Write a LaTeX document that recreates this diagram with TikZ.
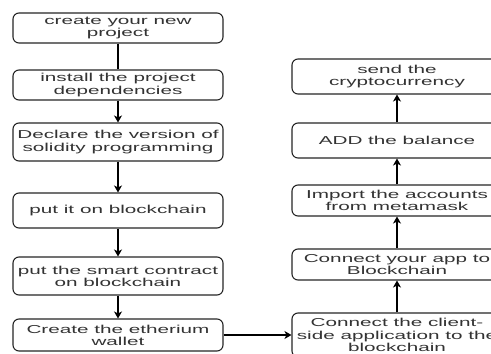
\documentclass[tikz,border=0pt]{standalone}
\usepackage{fontspec}
\newfontfamily\widesans[FakeStretch=1.8]{Liberation Sans}
\usetikzlibrary{arrows.meta}
\begin{document}
\begin{tikzpicture}[x=1pt,y=-1pt,
  flowbox/.style={draw=black!85, line width=1.1pt, rounded corners=6pt,
    minimum width=210pt, inner sep=0pt, align=center,
    font=\widesans\fontsize{11.5}{12.2}\selectfont, text=black!80},
  flowarrow/.style={draw=black, line width=1.1pt, -{Stealth[length=7pt,width=8pt,inset=2pt]}},
  flowline/.style={draw=black, line width=1.1pt}]
\useasboundingbox (0,0) rectangle (491,354);
\fill[white] (0,0) rectangle (491,354);
\clip (0,0) rectangle (491,354);
% left column
\node[flowbox, minimum height=30pt] (b1) at (118,28) {create your new\\project};
\node[flowbox, minimum height=30pt] (b2) at (118,85) {install the project\\dependencies};
\node[flowbox, minimum height=38pt] (b3) at (118,142) {Declare the version of\\solidity programming};
\node[flowbox, minimum height=35pt] (b4) at (118,210.5) {put it on blockchain};
\node[flowbox, minimum height=38pt] (b5) at (118,276) {put the smart contract\\on blockchain};
\node[flowbox, minimum height=32pt] (b6) at (118,335) {Create the etherium\\wallet};
% right column
\node[flowbox, minimum height=35pt] (r1) at (397,76.5) {send the\\cryptocurrency};
\node[flowbox, minimum height=35pt] (r2) at (397,140.5) {ADD the balance};
\node[flowbox, minimum height=31pt] (r3) at (397,200.5) {Import the accounts\\from metamask};
\node[flowbox, minimum height=44pt] (r5) at (397,335) {Connect the client-\\side application to the\\blockchain};
\node[flowbox, minimum height=31pt] (r4) at (397,264.5) {Connect your app to\\Blockchain};
% connectors
\draw[flowline] (b1) -- (b2);
\draw[flowarrow] (b2) -- (b3);
\draw[flowarrow] (b3) -- (b4);
\draw[flowarrow] (b4) -- (b5);
\draw[flowarrow] (b5) -- (b6);
\draw[flowarrow] (b6.east) -- (b6.east -| r5.west);
\draw[flowarrow] (r5) -- (r4);
\draw[flowarrow] (r4) -- (r3);
\draw[flowarrow] (r3) -- (r2);
\draw[flowarrow] (r2) -- (r1);
\end{tikzpicture}
\end{document}
